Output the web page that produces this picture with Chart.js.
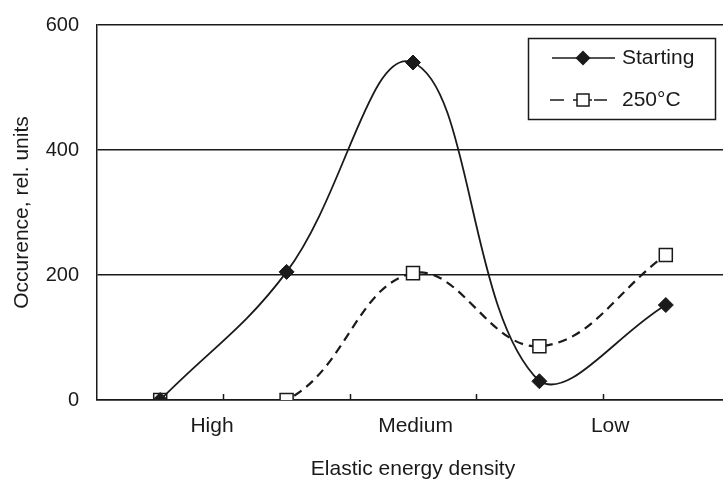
<!DOCTYPE html>
<html>
<head>
<meta charset="utf-8">
<title>Elastic energy density</title>
<script src="https://cdn.jsdelivr.net/npm/chart.js@4.4.1/dist/chart.umd.min.js"></script>
<style>
  html, body { margin: 0; padding: 0; background: #fff; overflow: hidden; }
  #wrap { width: 723px; height: 484px; overflow: hidden; }
  canvas { display: block; }
</style>
</head>
<body>
<div id="wrap"><canvas id="energyChart" width="730" height="484"></canvas></div>
<script>
// ------------------------------
// Data
// ------------------------------
const groupLabels = ['High', 'Medium', 'Low'];
const pointIndex = [1, 2, 3, 4, 5];
const startingValues = [0, 205, 540, 30, 152];
const heatedValues = [0, 0, 203, 86, 232];
const yTickValues = [0, 200, 400, 600];
const seriesNames = ['Starting', '250°C'];

const INK = '#1a1a1a';
const FONT = '"Liberation Sans", Arial, sans-serif';

// where the group labels and small bin ticks sit on the x scale
const labelSlots = [1.41, 3.02, 4.56];
const binEdges = [1.5, 2.5, 3.5, 4.5];

function toPoints(values) {
  return values.map((v, i) => ({ x: pointIndex[i], y: v }));
}

// no extra label overhang padding, the plot area is set by layout.padding
function noOverhang(scale) {
  scale.paddingTop = 0;
  scale.paddingBottom = 0;
  scale.paddingLeft = 0;
  scale.paddingRight = 0;
}

// ------------------------------
// Small inward tick marks on the x axis
// ------------------------------
const binTicks = {
  id: 'binTicks',
  afterDraw(chart) {
    const { ctx, chartArea, scales } = chart;
    ctx.save();
    ctx.strokeStyle = INK;
    ctx.lineWidth = 1.5;
    binEdges.forEach(v => {
      const px = Math.round(scales.x.getPixelForValue(v)) + 0.5;
      ctx.beginPath();
      ctx.moveTo(px, chartArea.bottom);
      ctx.lineTo(px, chartArea.bottom - 6);
      ctx.stroke();
    });
    ctx.restore();
  }
};

// ------------------------------
// Boxed legend, line + marker samples
// ------------------------------
const boxLegend = {
  id: 'boxLegend',
  afterDraw(chart) {
    const ctx = chart.ctx;
    const left = 528, top = 38, w = 187, h = 81;
    ctx.save();
    ctx.fillStyle = '#fff';
    ctx.fillRect(left, top, w, h);
    ctx.strokeStyle = INK;
    ctx.lineWidth = 1.5;
    ctx.strokeRect(left + 0.5, top + 0.5, w, h);

    // Starting row
    let y = 58;
    ctx.beginPath();
    ctx.moveTo(552, y);
    ctx.lineTo(615, y);
    ctx.stroke();
    ctx.fillStyle = INK;
    ctx.beginPath();
    ctx.moveTo(583, y - 7.5); ctx.lineTo(590.5, y); ctx.lineTo(583, y + 7.5); ctx.lineTo(575.5, y);
    ctx.closePath();
    ctx.fill();

    // 250°C row
    y = 100;
    ctx.beginPath();
    ctx.moveTo(550, y); ctx.lineTo(564, y);
    ctx.moveTo(573, y); ctx.lineTo(577, y);
    ctx.moveTo(589, y); ctx.lineTo(592, y);
    ctx.moveTo(594, y); ctx.lineTo(607, y);
    ctx.stroke();
    ctx.fillStyle = '#fff';
    ctx.fillRect(577, y - 6, 12, 12);
    ctx.strokeRect(577, y - 6, 12, 12);

    ctx.fillStyle = INK;
    ctx.font = '21px ' + FONT;
    ctx.textBaseline = 'middle';
    ctx.textAlign = 'left';
    ctx.fillText(seriesNames[0], 622, 58);
    ctx.fillText(seriesNames[1], 622, 100);
    ctx.restore();
  }
};

// ------------------------------
// Chart
// ------------------------------
function renderEnergyChart() {
  const ctx = document.getElementById('energyChart');
  new Chart(ctx, {
    type: 'line',
    data: {
      datasets: [{
        label: seriesNames[0],
        data: toPoints(startingValues),
        borderColor: INK,
        borderWidth: 1.8,
        tension: 0.4,
        pointStyle: 'rectRot',
        pointRadius: 7.5,
        pointBackgroundColor: INK,
        pointBorderColor: INK,
        pointBorderWidth: 1,
        clip: 0
      }, {
        label: seriesNames[1],
        data: toPoints(heatedValues),
        borderColor: INK,
        borderWidth: 2.2,
        borderDash: [9, 6],
        tension: 0.4,
        pointStyle: 'rect',
        pointRadius: 9.2,
        pointBackgroundColor: '#fff',
        pointBorderColor: INK,
        pointBorderWidth: 1.5,
        clip: 0
      }]
    },
    options: {
      responsive: false,
      animation: false,
      layout: { autoPadding: false, padding: { top: 25, right: 1, left: 0, bottom: 0 } },
      plugins: {
        legend: { display: false },
        tooltip: { enabled: false }
      },
      scales: {
        x: {
          type: 'linear',
          min: 0.5,
          max: 5.5,
          afterBuildTicks(scale) {
            scale.ticks = labelSlots.map(v => ({ value: v }));
          },
          afterFit(scale) { scale.height = 84; noOverhang(scale); },
          ticks: {
            autoSkip: false,
            maxRotation: 0,
            padding: 14,
            color: INK,
            font: { family: FONT, size: 21 },
            callback: (val, i) => groupLabels[i]
          },
          grid: { display: false, drawTicks: false },
          border: { display: true, color: INK, width: 1.5 },
          title: {
            display: true,
            text: 'Elastic energy density',
            color: INK,
            font: { family: FONT, size: 21 },
            padding: 2
          }
        },
        y: {
          min: 0,
          max: 600,
          afterBuildTicks(scale) {
            scale.ticks = yTickValues.map(v => ({ value: v }));
          },
          afterFit(scale) { scale.width = 97; noOverhang(scale); },
          ticks: {
            padding: 18,
            color: INK,
            font: { family: FONT, size: 20 }
          },
          grid: { color: INK, lineWidth: 1.5, drawTicks: false },
          border: { display: true, color: INK, width: 1.5 },
          title: {
            display: true,
            text: 'Occurence, rel. units',
            color: INK,
            font: { family: FONT, size: 21 },
            padding: { top: 10, bottom: 0 }
          }
        }
      }
    },
    plugins: [binTicks, boxLegend]
  });
}

renderEnergyChart();
</script>
</body>
</html>
